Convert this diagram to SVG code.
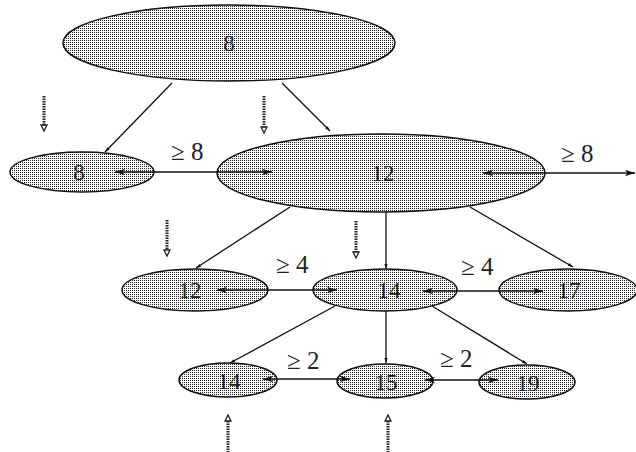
<svg xmlns="http://www.w3.org/2000/svg" width="636" height="452" viewBox="0 0 636 452">
  <defs>
    <pattern id="stipple" width="2" height="2" patternUnits="userSpaceOnUse">
      <rect width="2" height="2" fill="#ffffff"/>
      <rect width="1" height="1" fill="#222222"/>
    </pattern>
    <marker id="head" viewBox="0 0 10 8" refX="10" refY="4" markerWidth="10" markerHeight="8" markerUnits="userSpaceOnUse" orient="auto-start-reverse">
      <path d="M0,0.8 L10,4 L0,7.2 L2.5,4 Z" fill="#111"/>
    </marker>
    <marker id="tip" viewBox="0 0 5 5" refX="5" refY="2.5" markerWidth="5" markerHeight="5" markerUnits="userSpaceOnUse" orient="auto">
      <path d="M0,0.9 L5,2.5 L0,4.1 Z" fill="#111"/>
    </marker>
  </defs>
  <style>
    .node ellipse { fill: url(#stipple); stroke: #111; stroke-width: 1.5; }
    .node text { font-family: "Liberation Serif", "DejaVu Serif", serif; font-size: 23px; fill: #222; text-anchor: middle; }
    .edge { stroke: #111; stroke-width: 1.3; fill: none; }
    .tree { marker-end: url(#tip); }
    .bound { marker-start: url(#head); marker-end: url(#head); }
    .lbl { font-family: "Liberation Serif", "DejaVu Serif", serif; font-size: 25px; fill: #222; }
    .probe line { stroke: #222; stroke-width: 3; stroke-dasharray: 1.5 1; }
    .probe path { fill: #fff; stroke: #222; stroke-width: 1.3; }
  </style>

  <!-- nodes -->
  <g id="n-root" class="node"><ellipse cx="229" cy="43" rx="166" ry="38"/><text x="229" y="51">8</text></g>
  <g id="n-left8" class="node"><ellipse cx="82" cy="172" rx="72" ry="20"/><text x="79" y="180">8</text></g>
  <g id="n-mid12" class="node"><ellipse cx="381" cy="173" rx="164" ry="39"/><text x="383" y="181">12</text></g>
  <g id="n-l3-12" class="node"><ellipse cx="195" cy="290" rx="73" ry="21"/><text x="190" y="298">12</text></g>
  <g id="n-l3-14" class="node"><ellipse cx="385" cy="290" rx="72" ry="21"/><text x="389" y="298">14</text></g>
  <g id="n-l3-17" class="node"><ellipse cx="568" cy="290" rx="69" ry="21"/><text x="569" y="298">17</text></g>
  <g id="n-l4-14" class="node"><ellipse cx="228" cy="380" rx="49" ry="17"/><text x="229" y="389">14</text></g>
  <g id="n-l4-15" class="node"><ellipse cx="385" cy="381" rx="48" ry="17"/><text x="386" y="390">15</text></g>
  <g id="n-l4-19" class="node"><ellipse cx="527" cy="382" rx="48" ry="17"/><text x="528" y="391">19</text></g>

  <!-- tree edges and bound arrows, drawn over the node fills -->
  <g id="connectors">
    <line class="edge tree" x1="172" y1="83" x2="105" y2="152"/>
    <line class="edge tree" x1="282" y1="83" x2="330" y2="131"/>
    <line class="edge tree" x1="290" y1="207" x2="196" y2="268"/>
    <line class="edge tree" x1="386" y1="212" x2="386" y2="269"/>
    <line class="edge tree" x1="470" y1="207" x2="573" y2="267"/>
    <line class="edge tree" x1="335" y1="306" x2="230" y2="363"/>
    <line class="edge tree" x1="386" y1="311" x2="386" y2="363"/>
    <line class="edge tree" x1="432" y1="306" x2="527" y2="364"/>

    <line class="edge bound" x1="115" y1="172" x2="272" y2="172"/>
    <line class="edge bound" x1="483" y1="173" x2="635" y2="173"/>
    <line class="edge bound" x1="217" y1="290" x2="337" y2="290"/>
    <line class="edge bound" x1="423" y1="291" x2="543" y2="291"/>
    <line class="edge bound" x1="263" y1="379" x2="350" y2="379"/>
    <line class="edge bound" x1="425" y1="380" x2="498" y2="380"/>

    <text class="lbl" x="171" y="160">≥ 8</text>
    <text class="lbl" x="561" y="162">≥ 8</text>
    <text class="lbl" x="276" y="273">≥ 4</text>
    <text class="lbl" x="461" y="275">≥ 4</text>
    <text class="lbl" x="287" y="369">≥ 2</text>
    <text class="lbl" x="440" y="367">≥ 2</text>
  </g>

  <!-- hatched probe arrows -->
  <g id="probes" class="probe">
    <line x1="44" y1="96" x2="44" y2="125"/><path d="M41,125 L47,125 L44,131 Z"/>
    <line x1="264" y1="96" x2="264" y2="127"/><path d="M261,127 L267,127 L264,133 Z"/>
    <line x1="167" y1="220" x2="167" y2="250"/><path d="M164,250 L170,250 L167,256 Z"/>
    <line x1="356" y1="221" x2="356" y2="252"/><path d="M353,252 L359,252 L356,258 Z"/>
    <line x1="228" y1="421" x2="228" y2="452"/><path d="M225,421 L231,421 L228,415 Z"/>
    <line x1="388" y1="421" x2="388" y2="452"/><path d="M385,421 L391,421 L388,415 Z"/>
  </g>
</svg>
